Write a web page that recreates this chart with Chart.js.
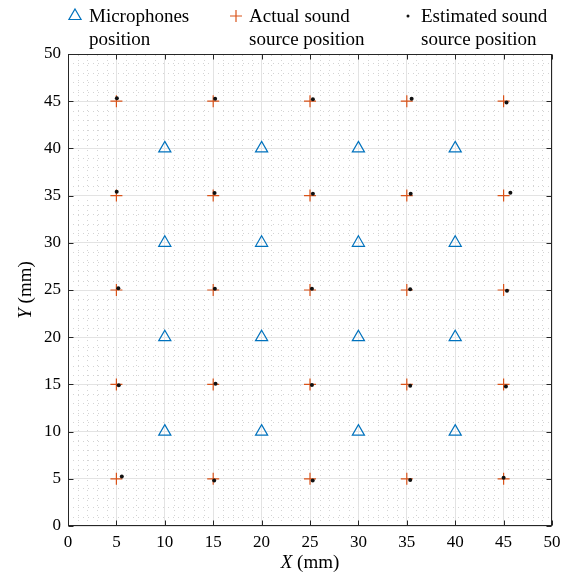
<!DOCTYPE html>
<html>
<head>
<meta charset="utf-8">
<script src="https://cdn.jsdelivr.net/npm/chart.js@4/dist/chart.umd.min.js"></script>
<style>
  body { margin: 0; background: #fff; }
  #wrap { position: relative; width: 570px; height: 574px; }
</style>
</head>
<body>
<div id="wrap"><canvas id="locChart" width="570" height="574"></canvas></div>
<script>
// microphone positions (mm)
var micX = [10, 10, 10, 10, 20, 20, 20, 20, 30, 30, 30, 30, 40, 40, 40, 40];
var micY = [10, 20, 30, 40, 10, 20, 30, 40, 10, 20, 30, 40, 10, 20, 30, 40];

// actual sound source positions (mm)
var srcX = [5, 15, 25, 35, 45, 5, 15, 25, 35, 45, 5, 15, 25, 35, 45, 5, 15, 25, 35, 45, 5, 15, 25, 35, 45];
var srcY = [45, 45, 45, 45, 45, 35, 35, 35, 35, 35, 25, 25, 25, 25, 25, 15, 15, 15, 15, 15, 5, 5, 5, 5, 5];

// estimated sound source positions (mm)
var estX = [5.05, 15.2, 25.3, 35.5, 45.3,
            5.03, 15.14, 25.3, 35.4, 45.7,
            5.2, 15.17, 25.2, 35.35, 45.35,
            5.24, 15.24, 25.2, 35.35, 45.24,
            5.56, 15.1, 25.28, 35.35, 45.0];
var estY = [45.3, 45.25, 45.2, 45.25, 44.86,
            35.4, 35.28, 35.2, 35.2, 35.3,
            25.18, 25.14, 25.14, 25.07, 24.93,
            14.9, 15.07, 14.93, 14.86, 14.79,
            5.25, 4.82, 4.82, 4.86, 5.1];

var legendLabels = ['Microphones\nposition', 'Actual sound\nsource position', 'Estimated sound\nsource position'];
var axisMin = 0, axisMax = 50, majorStep = 5;

function toPoints(xs, ys) {
    return xs.map(function(x, i) { return { x: x, y: ys[i] }; });
}

var serif = "'Liberation Serif', 'Times New Roman', serif";
var axisColor = '#262626';

// dotted minor grid under everything
var minorGrid = {
    id: 'minorGrid',
    beforeDraw: function(chart) {
        var c = chart.ctx, a = chart.chartArea;
        var xs = chart.scales.x, ys = chart.scales.y;
        c.save();
        c.strokeStyle = '#d4d4d4';
        c.lineWidth = 1;
        c.setLineDash([1, 4]);
        for (var v = axisMin; v <= axisMax; v++) {
            if (v % majorStep === 0) continue;
            var px = Math.round(xs.getPixelForValue(v)) + 0.5;
            c.beginPath(); c.moveTo(px, a.bottom); c.lineTo(px, a.top); c.stroke();
            var py = Math.round(ys.getPixelForValue(v)) + 0.5;
            c.beginPath(); c.moveTo(a.left, py); c.lineTo(a.right, py); c.stroke();
        }
        c.restore();
    }
};

// box, inward ticks, axis titles and the two-line legend
var boxAndLegend = {
    id: 'boxAndLegend',
    afterDraw: function(chart) {
        var c = chart.ctx, a = chart.chartArea;
        var xs = chart.scales.x, ys = chart.scales.y;
        c.save();
        c.strokeStyle = axisColor;
        c.lineWidth = 1;
        var L = Math.round(a.left) + 0.5, R = Math.round(a.right) - 0.5;
        var T = Math.round(a.top) + 0.5, B = Math.round(a.bottom) - 0.5;
        c.strokeRect(L, T, R - L, B - T);
        for (var v = axisMin; v <= axisMax; v += majorStep) {
            var px = Math.round(xs.getPixelForValue(v)) + 0.5;
            c.beginPath();
            c.moveTo(px, B); c.lineTo(px, B - 5);
            c.moveTo(px, T); c.lineTo(px, T + 5);
            c.stroke();
            var py = Math.round(ys.getPixelForValue(v)) + 0.5;
            c.beginPath();
            c.moveTo(L, py); c.lineTo(L + 5, py);
            c.moveTo(R, py); c.lineTo(R - 5, py);
            c.stroke();
        }

        // axis titles with italic variable letter
        c.fillStyle = '#000';
        c.textBaseline = 'alphabetic';
        var fItal = 'italic 19px ' + serif, fNorm = '19px ' + serif;
        c.font = fItal; var w1 = c.measureText('X').width;
        c.font = fNorm; var w2 = c.measureText(' (mm)').width;
        var cx = (a.left + a.right) / 2, x0 = cx - (w1 + w2) / 2;
        c.font = fItal; c.fillText('X', x0, 568);
        c.font = fNorm; c.fillText(' (mm)', x0 + w1, 568);

        c.save();
        c.translate(31, (a.top + a.bottom) / 2);
        c.rotate(-Math.PI / 2);
        c.font = fItal; var h1 = c.measureText('Y').width;
        c.font = fNorm; var h2 = c.measureText(' (mm)').width;
        c.font = fItal; c.fillText('Y', -(h1 + h2) / 2, 0);
        c.font = fNorm; c.fillText(' (mm)', -(h1 + h2) / 2 + h1, 0);
        c.restore();
        c.restore();

        // legend
        var markerX = [75, 236, 408], textX = [89, 249, 421];
        chart.data.datasets.forEach(function(ds, i) {
            c.save();
            c.strokeStyle = ds.borderColor;
            c.fillStyle = ds.backgroundColor;
            c.lineWidth = ds.borderWidth;
            Chart.helpers.drawPoint(c, {
                pointStyle: ds.pointStyle,
                radius: ds.legendRadius,
                borderWidth: ds.borderWidth
            }, markerX[i], 16);
            c.fillStyle = '#000';
            c.font = '19px ' + serif;
            c.textBaseline = 'alphabetic';
            var lines = legendLabels[i].split('\n');
            c.fillText(lines[0], textX[i], 22);
            c.fillText(lines[1], textX[i], 45);
            c.restore();
        });
    }
};

var ctx = document.getElementById('locChart').getContext('2d');
var locChart = new Chart(ctx, {
    type: 'scatter',
    data: {
        datasets: [{
            label: legendLabels[0],
            data: toPoints(micX, micY),
            pointStyle: 'triangle',
            pointRadius: 7,
            legendRadius: 7,
            borderColor: '#0072BD',
            backgroundColor: 'rgba(255,255,255,0)',
            borderWidth: 1.2,
            order: 3
        }, {
            label: legendLabels[1],
            data: toPoints(srcX, srcY),
            pointStyle: 'cross',
            pointRadius: 6,
            legendRadius: 6,
            borderColor: '#D95319',
            backgroundColor: '#D95319',
            borderWidth: 1.2,
            order: 2
        }, {
            label: legendLabels[2],
            data: toPoints(estX, estY),
            pointStyle: 'circle',
            pointRadius: 2,
            legendRadius: 1.5,
            borderColor: '#111111',
            backgroundColor: '#111111',
            borderWidth: 0,
            order: 1
        }]
    },
    options: {
        responsive: false,
        animation: false,
        events: [],
        layout: { padding: { top: 54, right: 18, left: 0, bottom: 0 }, autoPadding: false },
        plugins: {
            legend: { display: false },
            tooltip: { enabled: false }
        },
        scales: {
            x: {
                type: 'linear',
                min: axisMin,
                max: axisMax,
                afterFit: function(s) { s.height = 48; },
                ticks: {
                    stepSize: majorStep,
                    padding: 6,
                    color: '#000',
                    font: { family: serif, size: 17 }
                },
                grid: { color: '#e3e3e3', lineWidth: 1, drawTicks: false },
                border: { display: false }
            },
            y: {
                type: 'linear',
                min: axisMin,
                max: axisMax,
                afterFit: function(s) { s.width = 68; },
                ticks: {
                    stepSize: majorStep,
                    padding: 7,
                    color: '#000',
                    font: { family: serif, size: 17 }
                },
                grid: { color: '#e3e3e3', lineWidth: 1, drawTicks: false },
                border: { display: false }
            }
        }
    },
    plugins: [minorGrid, boxAndLegend]
});
</script>
</body>
</html>
